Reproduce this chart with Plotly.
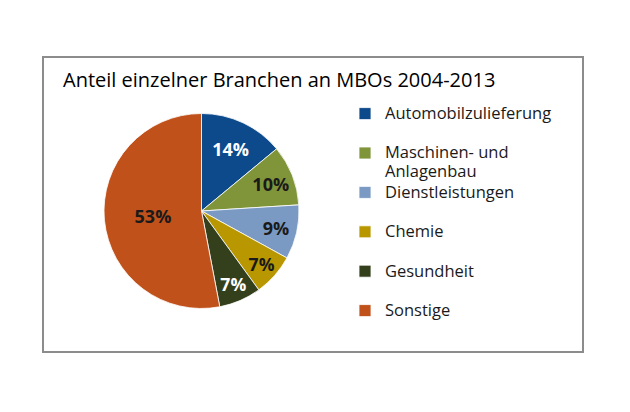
import plotly.graph_objects as go

branchen = ["Automobilzulieferung", "Maschinen- und<br>Anlagenbau", "Dienstleistungen",
            "Chemie", "Gesundheit", "Sonstige"]
anteile = [14, 10, 9, 7, 7, 53]
farben = ["#0c4a8c", "#80953a", "#7a9ac4", "#b99700", "#343f1c", "#c1511b"]
textfarben = ["white", "#1a1a1a", "#1a1a1a", "#1a1a1a", "white", "#1a1a1a"]


def eintrag(b):
    # bigger glyphs than the legend base size, and an empty second line for
    # single-line entries so all rows are evenly spaced
    zeilen = b.split("<br>")
    if len(zeilen) == 1:
        zeilen.append(" ")
    return "<br>".join("<span style='font-size:16.5px'>%s</span>" % z for z in zeilen)


legend_labels = [eintrag(b) for b in branchen]

# the page body has an 8px margin, so the figure is 8px smaller and shifted
OFF = 8
W, H = 630 - OFF, 412 - OFF


def px(x):
    return (x - OFF) / W


def py(y):
    return 1 - (y - OFF) / H


fig = go.Figure(go.Pie(
    labels=legend_labels,
    values=anteile,
    sort=False,
    direction="clockwise",
    rotation=0,
    marker=dict(colors=farben, line=dict(color="white", width=0.8)),
    texttemplate="<b>%{value}%</b>",
    textposition="inside",
    insidetextorientation="horizontal",
    textfont=dict(size=18, color=textfarben, family="Open Sans"),
    domain=dict(x=[px(104), px(299)], y=[py(309), py(113)]),
    hoverinfo="percent",
))

fig.add_shape(type="rect", xref="paper", yref="paper",
              x0=px(43), x1=px(583), y0=py(352), y1=py(57),
              line=dict(color="#8c8c8c", width=2))

fig.add_annotation(text="Anteil einzelner Branchen an MBOs 2004-2013",
                   xref="paper", yref="paper", x=px(61), y=py(80),
                   xanchor="left", yanchor="middle", showarrow=False,
                   font=dict(size=20, color="black", family="Open Sans"))

fig.update_layout(
    width=W,
    height=H,
    margin=dict(l=0, r=0, t=0, b=0),
    paper_bgcolor="white",
    font=dict(family="Open Sans", color="#1a1a1a"),
    legend=dict(
        x=px(345), y=py(98), xanchor="left", yanchor="top",
        valign="top",
        font=dict(size=14, color="#1a1a1a"),
        bgcolor="rgba(0,0,0,0)",
    ),
)

fig.write_html("out.html")
